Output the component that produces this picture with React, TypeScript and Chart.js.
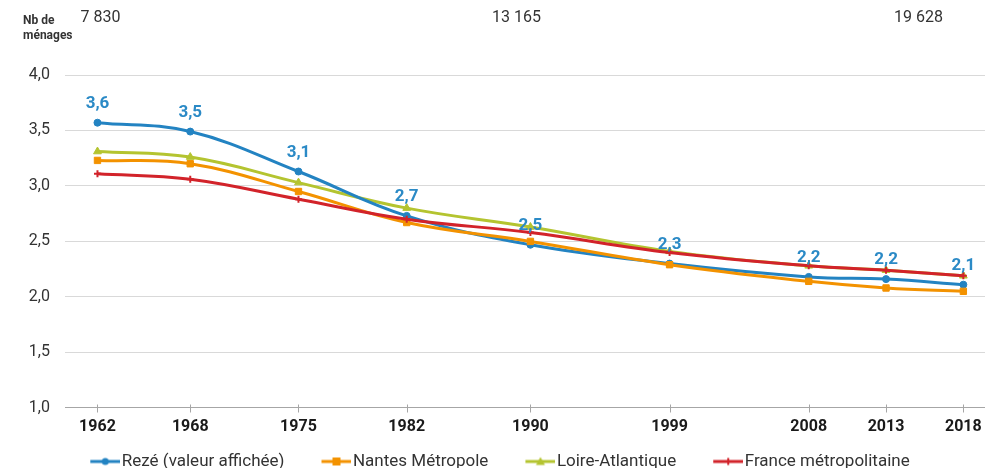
import React, { useEffect, useRef } from 'react';
import { Chart, registerables } from 'chart.js';

Chart.register(...registerables);

const years = [1962, 1968, 1975, 1982, 1990, 1999, 2008, 2013, 2018];
const reze = [3.57, 3.49, 3.13, 2.73, 2.47, 2.30, 2.18, 2.16, 2.11];
const nantes = [3.23, 3.2, 2.95, 2.67, 2.5, 2.29, 2.14, 2.08, 2.05];
const loire = [3.31, 3.26, 3.03, 2.8, 2.63, 2.41, 2.28, 2.24, 2.19];
const france = [3.11, 3.06, 2.88, 2.7, 2.58, 2.4, 2.28, 2.24, 2.19];
const seriesNames = ['Rezé (valeur affichée)', 'Nantes Métropole', 'Loire-Atlantique', 'France métropolitaine'];
const popYears = [1962.2, 1989.1, 2015.1];
const popLabels = ['7 830', '13 165', '19 628'];
const yAxisTitle = ['Nb de', 'ménages'];

const COLORS = ['#2383c2', '#f39200', '#b4c430', '#d2232a'];
const LABEL_BLUE = '#2b8ac6';
const FONT = "Roboto, 'Noto Sans', sans-serif";

const fmt = (v: number) => v.toFixed(1).replace('.', ',');

function legendIcon(color: string, style: string) {
  const c = document.createElement('canvas');
  c.width = 68;
  c.height = 14;
  const g = c.getContext('2d')!;
  g.strokeStyle = color;
  g.fillStyle = color;
  g.lineWidth = 3;
  g.beginPath();
  g.moveTo(38, 7);
  g.lineTo(68, 7);
  g.stroke();
  const cx = 53, cy = 7;
  g.beginPath();
  if (style === 'circle') {
    g.arc(cx, cy, 3.5, 0, Math.PI * 2);
    g.fill();
  } else if (style === 'rect') {
    g.fillRect(cx - 4, cy - 4, 8, 8);
  } else if (style === 'triangle') {
    g.moveTo(cx, cy - 4.5);
    g.lineTo(cx + 4.5, cy + 3.5);
    g.lineTo(cx - 4.5, cy + 3.5);
    g.closePath();
    g.fill();
  } else {
    g.lineWidth = 2;
    g.moveTo(cx, cy - 3.5);
    g.lineTo(cx, cy + 3.5);
    g.stroke();
  }
  return c;
}

const decorPlugin = {
  id: 'decor',
  afterDatasetsDraw(chart: any) {
    const { ctx, chartArea } = chart;
    const xs = chart.scales.x;
    const ys = chart.scales.y;
    ctx.save();
    ctx.strokeStyle = '#a6a6a6';
    ctx.lineWidth = 1;
    const yb = Math.round(ys.getPixelForValue(1)) + 0.5;
    years.forEach((yr) => {
      const x = Math.round(xs.getPixelForValue(yr)) + 0.5;
      ctx.beginPath();
      ctx.moveTo(x, yb - 4);
      ctx.lineTo(x, yb + 4);
      ctx.stroke();
    });
    const meta = chart.getDatasetMeta(0);
    ctx.fillStyle = LABEL_BLUE;
    ctx.font = `bold 17px ${FONT}`;
    ctx.textAlign = 'center';
    ctx.textBaseline = 'middle';
    meta.data.forEach((pt: any, i: number) => {
      ctx.fillText(fmt(reze[i]), pt.x, pt.y - 19);
    });
    ctx.fillStyle = '#333333';
    ctx.font = `16px ${FONT}`;
    popYears.forEach((yr, i) => {
      ctx.fillText(popLabels[i], xs.getPixelForValue(yr), chartArea.top - 57);
    });
    ctx.font = `bold 12px ${FONT}`;
    ctx.textAlign = 'left';
    ctx.fillStyle = '#333333';
    ctx.fillText(yAxisTitle[0], 23, chartArea.top - 54);
    ctx.fillText(yAxisTitle[1], 23, chartArea.top - 39);
    ctx.restore();
  },
};

export default function App() {
  const ref = useRef<HTMLCanvasElement>(null);
  useEffect(() => {
    document.body.style.margin = '0';
    const styles = ['circle', 'rect', 'triangle', 'cross'];
    const icons = COLORS.map((c, i) => legendIcon(c, styles[i]));
    const mk = (i: number, data: number[], order: number, radius: number) => ({
      label: seriesNames[i],
      data: years.map((y, k) => ({ x: y, y: data[k] })),
      borderColor: COLORS[i],
      backgroundColor: COLORS[i],
      borderWidth: 3,
      pointStyle: styles[i],
      pointRadius: radius,
      pointBorderWidth: i === 3 ? 2 : 1,
      tension: 0.4,
      order,
    });
    const chart = new Chart(ref.current!, {
      type: 'line',
      data: {
        datasets: [
          mk(0, reze, 2, 3.5),
          mk(1, nantes, 1, 4.5),
          mk(2, loire, 3, 4.5),
          mk(3, france, 0, 3.5),
        ],
      },
      options: {
        responsive: false,
        animation: false,
        layout: { padding: { left: -16, right: 17, top: 75, bottom: -12 } },
        scales: {
          x: {
            type: 'linear',
            min: 1959.9,
            max: 2019.4,
            grid: { display: false, drawTicks: false },
            border: { display: false },
            afterBuildTicks: (axis: any) => {
              axis.ticks = years.map((v) => ({ value: v }));
            },
            ticks: {
              autoSkip: false,
              maxRotation: 0,
              padding: 10,
              color: '#1a1a1a',
              font: { family: FONT, size: 16, weight: 'bold' },
              callback: (v: any) => String(v),
            },
          },
          y: {
            min: 1,
            max: 4,
            afterFit: (s: any) => {
              s.width = 81;
            },
            grid: {
              drawTicks: false,
              color: (c: any) => (c.tick && c.tick.value === 1 ? '#a6a6a6' : '#d9d9d9'),
              lineWidth: 1,
            },
            border: { display: false },
            ticks: {
              stepSize: 0.5,
              padding: 15,
              color: '#333333',
              font: { family: FONT, size: 16 },
              callback: (v: any) => fmt(Number(v)),
            },
          },
        },
        plugins: {
          tooltip: { enabled: false },
          legend: {
            position: 'bottom',
            labels: {
              usePointStyle: true,
              pointStyleWidth: 54,
              padding: 6,
              color: '#333333',
              font: { family: FONT, size: 17 },
              generateLabels: () =>
                seriesNames.map((name, i) => ({
                  text: name,
                  fillStyle: COLORS[i],
                  strokeStyle: COLORS[i],
                  lineWidth: 0,
                  hidden: false,
                  datasetIndex: i,
                  pointStyle: icons[i],
                  fontColor: '#333333',
                })),
            },
          },
        },
      } as any,
      plugins: [decorPlugin],
    });
    return () => chart.destroy();
  }, []);
  return <canvas ref={ref} width={1002} height={468} style={{ display: 'block' }} />;
}
